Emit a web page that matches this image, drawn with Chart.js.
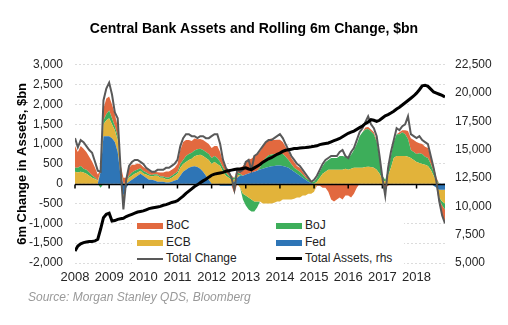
<!DOCTYPE html>
<html>
<head>
<meta charset="utf-8">
<script src="https://cdn.jsdelivr.net/npm/chart.js@4.4.0/dist/chart.umd.min.js"></script>
<style>
  html, body { margin: 0; padding: 0; background: #fff; }
  #wrap { position: relative; width: 508px; height: 325px; font-family: "Liberation Sans", Arial, sans-serif; }
  #chart { position: absolute; left: 0; top: 0; }
  #legend { position: absolute; left: 132px; top: 217px; width: 272px; height: 51px; background: #fff; font-size: 12px; color: #222; }
  .item { position: absolute; height: 16px; line-height: 16px; white-space: nowrap; }
  .sw { display: inline-block; vertical-align: middle; width: 26px; margin-right: 3px; }
  #source { position: absolute; left: 28px; top: 290px; font-size: 12px; font-style: italic; color: #999; }
</style>
</head>
<body>
<div id="wrap">
  <canvas id="chart" width="508" height="325"></canvas>
  <div id="legend">
    <div class="item" style="left:5px;top:0"><span class="sw" style="height:6px;background:#e2693f"></span>BoC</div>
    <div class="item" style="left:5px;top:17px"><span class="sw" style="height:6px;background:#e2b33a"></span>ECB</div>
    <div class="item" style="left:5px;top:33px"><span class="sw" style="height:2px;background:#595959"></span>Total Change</div>
    <div class="item" style="left:144px;top:0"><span class="sw" style="height:6px;background:#3dae5a"></span>BoJ</div>
    <div class="item" style="left:144px;top:17px"><span class="sw" style="height:6px;background:#2e75b6"></span>Fed</div>
    <div class="item" style="left:144px;top:33px"><span class="sw" style="height:3px;background:#000"></span>Total Assets, rhs</div>
  </div>
  <div id="source">Source: Morgan Stanley QDS, Bloomberg</div>
</div>
<script>
// monthly, Jan 2008 .. Nov 2018, $bn
const startYear = 2008;
const yearTicks = [2008, 2009, 2010, 2011, 2012, 2013, 2014, 2015, 2016, 2017, 2018];

const fed = [0, 0, 0, 0, 0, 0, 0, 0, 0, 300, 1200, 1200,
  1200, 1150, 1050, 800, 200, -300, -100, 50, 100, 150, 200, 250,
  200, 150, 100, 100, 80, 50, 50, 50, 30, 30, 50, 80,
  100, 200, 300, 350, 400, 430, 440, 420, 380, 300, 200, 100,
  0, 0, 0, -50, -50, -50, -50, -50, 50, 150, 200, 200,
  230, 260, 280, 300, 330, 360, 380, 400, 420, 440, 450, 460,
  460, 450, 430, 400, 350, 300, 250, 200, 150, 100, 50, 20,
  0, 0, 0, 0, 0, 0, 0, 0, 0, 0, 0, 0,
  0, 0, 0, 0, 0, 0, 0, 0, 0, 0, 0, 0,
  0, 0, 0, 0, 0, 0, 0, 0, 0, 0, 0, 0,
  0, 0, 0, 0, 0, 0, -50, -100, -150, -150, -150];

const ecb = [300, 280, 300, 280, 250, 200, 150, 120, 80, 0, 300, 400,
  450, 350, 300, 300, 150, -100, 50, 100, 100, 100, 80, 80,
  60, 80, 100, 80, 120, 150, 100, 100, 80, 80, 100, 120,
  150, 200, 200, 200, 200, 200, 250, 300, 350, 400, 450, 500,
  500, 550, 500, 450, 300, 200, 150, 100, 50, 80, -100, -250,
  -300, -350, -400, -450, -450, -450, -500, -500, -500, -500, -480, -450,
  -450, -400, -400, -400, -400, -380, -350, -350, -300, -300, -250, -250,
  -200, 50, 150, 250, 300, 350, 350, 350, 350, 350, 350, 380,
  350, 380, 400, 400, 400, 400, 420, 430, 420, 400, 350, 250,
  100, 50, 200, 400, 650, 700, 700, 700, 700, 680, 650, 600,
  550, 520, 500, 480, 450, 350, 200, 50, -200, -300, -350];

const boj = [100, 120, 150, 100, 100, 80, 60, 40, 0, -100, 100, 150,
  200, 150, 100, 100, 50, 0, 0, 50, 80, 80, 80, 60,
  60, 50, 40, 40, 40, 30, 30, 30, 50, 50, 50, 50,
  50, 100, 100, 150, 150, 150, 150, 150, 150, 150, 150, 150,
  150, 150, 150, 100, 100, 80, 50, 50, 50, 50, 50, -150,
  -250, -300, -300, -250, -150, 50, 200, 250, 300, 300, 300, 300,
  300, 300, 250, 200, 150, 100, 100, 100, 80, 50, 50, 50,
  50, 100, 150, 200, 250, 250, 300, 300, 300, 350, 350, 300,
  300, 350, 450, 600, 800, 900, 950, 950, 900, 850, 700, 400,
  100, 50, 150, 300, 400, 550, 550, 600, 550, 450, 200, 200,
  200, 250, 250, 200, 200, 150, 100, 50, -50, -100, -150];

const boc = [550, 400, 500, 500, 450, 400, 350, 250, 150, 50, 300, 400,
  350, 350, 300, 250, 100, 150, 100, 200, 200, 150, 150, 100,
  100, 100, 80, 80, 60, 60, 100, 100, 150, 150, 150, 150,
  200, 350, 450, 400, 350, 300, 300, 250, 250, 250, 250, 250,
  250, 250, 300, 250, 150, 100, 100, 50, -250, 100, 150, 250,
  300, 350, 350, 400, 400, 400, 350, 400, 400, 400, 350, 350,
  350, 300, 250, 200, 150, 150, 100, 100, 80, 50, 50, 0,
  0, -50, -50, -100, -100, -200, -400, -450, -400, -350, -400, -300,
  -300, -350, -250, -100, 0, 0, 50, 50, 50, 50, 50, 0,
  -50, -100, -50, 0, 0, 0, 50, 50, 100, 200, 300, 300,
  300, 250, 250, 250, 250, 200, 150, 50, -100, -250, -300];

const totalChange = [1150, 920, 1100, 1050, 950, 850, 780, 560, 330, 300, 2100, 2400,
  2550, 2250, 1800, 1650, 400, -650, 100, 450, 550, 600, 600, 550,
  500, 400, 350, 300, 300, 350, 350, 350, 400, 400, 450, 500,
  600, 950, 1150, 1250, 1250, 1200, 1200, 1150, 1200, 1200, 1150, 1150,
  1200, 1250, 1250, 1000, 600, 400, 300, 150, -150, 350, 300, 350,
  550, 600, 350, 700, 750, 850, 950, 1050, 1100, 1100, 1150, 1200,
  1250, 1150, 1000, 850, 700, 600, 500, 450, 350, 250, 150, 50,
  100, 200, 350, 500, 600, 650, 700, 700, 700, 800, 850, 700,
  650, 800, 900, 1100, 1300, 1400, 1550, 1700, 1500, 1400, 1200, 700,
  150, -300, 400, 800, 1100, 1400, 1350, 1450, 1500, 1700, 1250, 1200,
  1150, 1200, 1100, 1050, 1000, 700, 400, 50, -450, -800, -1000];

const totalAssets = [6050, 6500, 6700, 6800, 6850, 6900, 6900, 6950, 7100, 8000, 9000, 9300,
  9400, 8700, 8750, 8850, 8900, 8950, 9100, 9200, 9300, 9400, 9500, 9550,
  9600, 9700, 9800, 9850, 9900, 9950, 10000, 10100, 10150, 10250, 10350, 10400,
  10500, 10700, 10900, 11150, 11350, 11550, 11750, 11900, 12080, 12250, 12400, 12580,
  12750, 12850, 12900, 12950, 13000, 13100, 13150, 13200, 13250, 13300, 13300, 13350,
  13400, 13300, 13250, 13400, 13550, 13700, 13900, 14050, 14200, 14300, 14450, 14600,
  14700, 14850, 14950, 15000, 15050, 15100, 15120, 15150, 15180, 15200, 15230, 15260,
  15300, 15350, 15450, 15500, 15550, 15600, 15700, 15800, 15900, 16000, 16150, 16300,
  16450, 16550, 16650, 16800, 16950, 17100, 17300, 17450, 17650, 17600, 17500, 17600,
  17800, 18000, 18100, 18250, 18400, 18600, 18750, 18950, 19150, 19350, 19550, 19750,
  20000, 20300, 20650, 20700, 20600, 20350, 20100, 20000, 19900, 19800, 19650];

const colBoC = '#e2693f', colBoJ = '#3dae5a', colECB = '#e2b33a', colFed = '#2e75b6';

const monthX = totalAssets.map((_, i) => startYear + i / 12);
const pts = arr => arr.map((v, i) => ({ x: monthX[i], y: v }));
const posPart = arr => pts(arr.map(v => Math.max(v, 0)));
const negPart = arr => pts(arr.map(v => Math.min(v, 0)));

function area(label, data, color, stack, fill) {
  return { label, data, stack, fill, yAxisID: 'y', backgroundColor: color, borderWidth: 0, pointRadius: 0 };
}

const zeroLine = {
  id: 'zeroLine',
  beforeDatasetDraw(chart, args) {
    if (args.index !== 1) return;
    const { ctx, chartArea, scales } = chart;
    const y0 = Math.round(scales.y.getPixelForValue(0)) + 0.5;
    ctx.save();
    ctx.strokeStyle = '#000';
    ctx.lineWidth = 1.5;
    ctx.beginPath();
    ctx.moveTo(chartArea.left, y0);
    ctx.lineTo(chartArea.right, y0);
    yearTicks.forEach(yr => {
      const x = scales.x.getPixelForValue(yr);
      ctx.moveTo(x, y0);
      ctx.lineTo(x, y0 + 4);
    });
    ctx.stroke();
    ctx.restore();
  }
};

Chart.defaults.font.family = '"Liberation Sans", Arial, sans-serif';
Chart.defaults.color = '#262626';

new Chart(document.getElementById('chart'), {
  type: 'line',
  data: {
    datasets: [
      { label: 'Total Assets, rhs', data: pts(totalAssets), yAxisID: 'y2', borderColor: '#000', borderWidth: 3, pointRadius: 0, fill: false },
      { label: 'Total Change', data: pts(totalChange), yAxisID: 'y', stack: 'total', borderColor: '#595959', borderWidth: 2, pointRadius: 0, fill: false },
      area('Fed', posPart(fed), colFed, 'pos', 'origin'),
      area('ECB', posPart(ecb), colECB, 'pos', '-1'),
      area('BoJ', posPart(boj), colBoJ, 'pos', '-1'),
      area('BoC', posPart(boc), colBoC, 'pos', '-1'),
      area('Fed', negPart(fed), colFed, 'neg', 'origin'),
      area('ECB', negPart(ecb), colECB, 'neg', '-1'),
      area('BoJ', negPart(boj), colBoJ, 'neg', '-1'),
      area('BoC', negPart(boc), colBoC, 'neg', '-1')
    ]
  },
  options: {
    responsive: false,
    animation: false,
    layout: { padding: 0 },
    elements: { line: { tension: 0 } },
    plugins: {
      legend: { display: false },
      tooltip: { enabled: false },
      title: {
        display: true,
        text: 'Central Bank Assets and Rolling 6m Change, $bn',
        color: '#000',
        font: { size: 14, weight: 'bold' },
        padding: { top: 21, bottom: 27 }
      }
    },
    scales: {
      x: {
        type: 'linear',
        min: startYear,
        max: startYear + (totalAssets.length - 1) / 12,
        grid: { display: false, drawTicks: false },
        border: { display: false },
        afterFit: s => { s.height = 62; },
        afterBuildTicks: s => { s.ticks = yearTicks.map(v => ({ value: v })); },
        ticks: {
          font: { size: 13 },
          padding: 7,
          maxRotation: 0,
          autoSkip: false,
          callback: v => String(v)
        }
      },
      y: {
        stacked: true,
        min: -2000,
        max: 3000,
        afterFit: s => { s.width = 75; },
        grid: { color: '#dcdcdc', drawTicks: false },
        border: { display: false, dash: [2, 2] },
        ticks: {
          stepSize: 500,
          padding: 12,
          font: { size: 12 },
          callback: v => v.toLocaleString('en-US')
        },
        title: {
          display: true,
          text: '6m Change in Assets, $bn',
          color: '#000',
          font: { size: 13, weight: 'bold' },
          padding: { top: 15, bottom: 0 }
        }
      },
      y2: {
        position: 'right',
        min: 5000,
        max: 22500,
        afterFit: s => { s.width = 63; },
        grid: { display: false, drawTicks: false },
        border: { display: false },
        ticks: {
          stepSize: 2500,
          padding: 10,
          font: { size: 12 },
          callback: v => v.toLocaleString('en-US')
        }
      }
    }
  },
  plugins: [zeroLine]
});
</script>
</body>
</html>
